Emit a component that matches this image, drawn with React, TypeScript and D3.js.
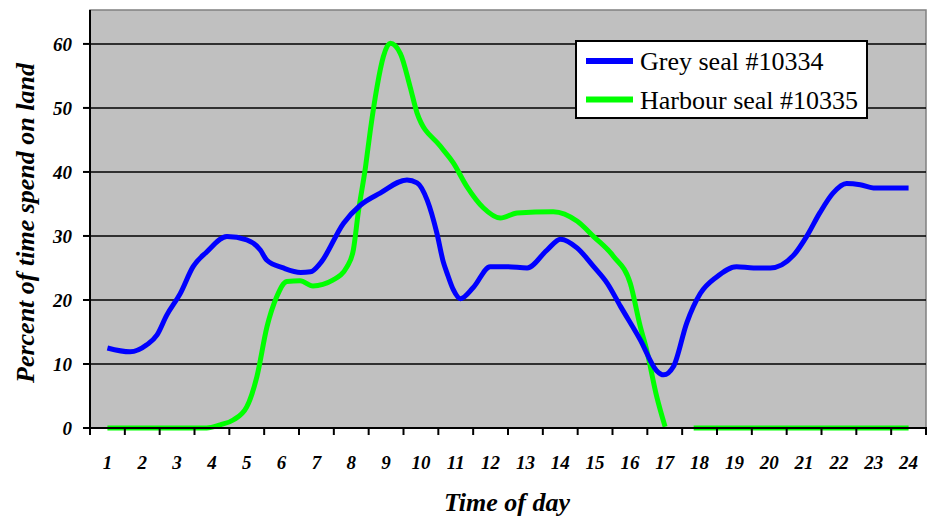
import React from "react";
import * as d3 from "d3";

const hoursTicks = d3.range(1, 25).map(String);

// Grey seal #10334 (hour of day, percent)
const greyHours = [1, 1.65, 2.13, 2.42, 2.7, 3.09, 3.46, 3.85, 4.43, 5.0, 5.39, 5.58, 6.05, 6.55, 6.83, 7.12, 7.78, 8.26, 8.83, 9.6, 9.89, 10.18, 10.46, 10.64, 10.75, 10.93, 11.13, 11.51, 11.99, 12.47, 13.05, 13.62, 14.01, 14.49, 14.96, 15.35, 15.73, 16.3, 16.76, 16.97, 17.25, 17.63, 18.02, 18.49, 19.06, 19.55, 20.03, 20.7, 21.07, 21.45, 21.83, 22.22, 22.61, 22.99, 24];
const greyValues = [12.5, 11.9, 13, 14.5, 17.6, 21, 25.2, 27.5, 29.9, 29.4, 27.8, 26.2, 25, 24.3, 24.4, 25.8, 32, 34.8, 36.7, 38.75, 38.3, 35.6, 30.4, 26, 24.2, 21.6, 20.2, 22, 25.2, 25.2, 25, 27.8, 29.5, 28.1, 25.2, 22.6, 19, 13.75, 9, 8.3, 9.6, 16.4, 21, 23.6, 25.2, 25, 25, 27, 29.9, 33.6, 36.7, 38.2, 38, 37.5, 37.5];

// Harbour seal #10335 (null = no data)
const harbourHours = [1, 2, 3, 3.85, 4.24, 4.61, 5.0, 5.29, 5.58, 5.86, 6.15, 6.53, 6.9, 7.47, 7.88, 8.06, 8.2, 8.41, 8.55, 8.74, 8.92, 9.12, 9.41, 9.69, 9.89, 10.56, 10.93, 11.32, 11.79, 12.28, 12.76, 13.8, 14.49, 14.96, 15.53, 16.01, 16.3, 16.48, 16.77, 17.01, 17.4, 17.83, 19, 20, 21, 22, 23, 24];
const harbourValues: (number | null)[] = [0, 0, 0, 0, 0.5, 1.25, 3.3, 8, 15.8, 20.5, 22.9, 23, 22.2, 23.1, 25.2, 27.8, 33.6, 40.8, 46.6, 53.3, 58, 60.1, 58.5, 53.3, 49.2, 44, 41.4, 37.7, 34.4, 32.8, 33.6, 33.8, 32.3, 29.9, 26.8, 22.6, 15.8, 12.2, 4.9, 0.2, null, 0, 0, 0, 0, 0, 0, 0];

const yTicks = [0, 10, 20, 30, 40, 50, 60];
const seriesNames = ["Grey seal #10334", "Harbour seal #10335"];
const seriesColors = ["#0000FF", "#00FF00"];

const FAM = '"Times New Roman", "Liberation Serif", Tinos, serif';

export default function App() {
  const W = 933, H = 517;
  const left = 90, right = 926, top = 10, bottom = 428;
  const band = d3.scaleBand<string>().domain(hoursTicks).range([left, right]);
  const x = d3.scaleLinear().domain([1, 24]).range([left + band.bandwidth() / 2, right - band.bandwidth() / 2]);
  const y = d3.scaleLinear().domain([0, 65.3]).range([bottom, top]);

  const line = d3.line<[number, number | null]>()
    .defined(d => d[1] !== null)
    .x(d => x(d[0]))
    .y(d => y(d[1] as number))
    .curve(d3.curveMonotoneX);

  const greyData = greyHours.map((h, i) => [h, greyValues[i]] as [number, number | null]);
  const harbourData = harbourHours.map((h, i) => [h, harbourValues[i]] as [number, number | null]);

  const tickEdges = d3.range(0, 25).map(i => left + i * band.step());

  return (
    <div style={{ position: "absolute", left: 0, top: 0 }}>
      <style>{`#chart text { font-family: ${FAM} !important; }`}</style>
      <svg id="chart" width={W} height={H} fontFamily={FAM}>
        <rect x={left} y={top} width={right - left} height={bottom - top} fill="#C0C0C0" stroke="#808080" strokeWidth={1.5} />
        {yTicks.filter(t => t > 0).map(t => (
          <line key={t} x1={left} x2={right} y1={y(t)} y2={y(t)} stroke="#000" strokeWidth={1.5} />
        ))}
        <path d={line(harbourData) || ""} fill="none" stroke={seriesColors[1]} strokeWidth={5} strokeLinejoin="round" />
        <path d={line(greyData) || ""} fill="none" stroke={seriesColors[0]} strokeWidth={5} strokeLinejoin="round" />
        <line x1={left} x2={left} y1={top} y2={bottom + 1} stroke="#000" strokeWidth={2} />
        <line x1={left - 7} x2={right + 1} y1={bottom} y2={bottom} stroke="#000" strokeWidth={2} />
        {yTicks.map(t => (
          <g key={t}>
            <line x1={left - 7} x2={left} y1={y(t)} y2={y(t)} stroke="#000" strokeWidth={2} />
            <text x={72} y={y(t)} dy="0.35em" textAnchor="end" fontSize={19} fontWeight="bold" fontStyle="italic">{t}</text>
          </g>
        ))}
        {tickEdges.map((tx, i) => (
          <line key={i} x1={tx} x2={tx} y1={bottom} y2={bottom + 7} stroke="#000" strokeWidth={2} />
        ))}
        {hoursTicks.map(h => (
          <text key={h} x={(band(h) as number) + band.bandwidth() / 2} y={469} textAnchor="middle" fontSize={19} fontWeight="bold" fontStyle="italic">{h}</text>
        ))}
        <text x={507} y={511} textAnchor="middle" fontSize={26} fontWeight="bold" fontStyle="italic">Time of day</text>
        <text transform={`translate(34, ${(top + bottom) / 2 + 4}) rotate(-90)`} textAnchor="middle" fontSize={26} fontWeight="bold" fontStyle="italic">Percent of time spend on land</text>
        <rect x={576} y={41} width={291} height={77} fill="#fff" stroke="#000" strokeWidth={2} />
        {seriesNames.map((n, i) => (
          <g key={n}>
            <line x1={586} x2={633} y1={61 + i * 38.5} y2={61 + i * 38.5} stroke={seriesColors[i]} strokeWidth={6} />
            <text x={640} y={61 + i * 38.5} dy="0.35em" fontSize={26}>{n}</text>
          </g>
        ))}
      </svg>
    </div>
  );
}
